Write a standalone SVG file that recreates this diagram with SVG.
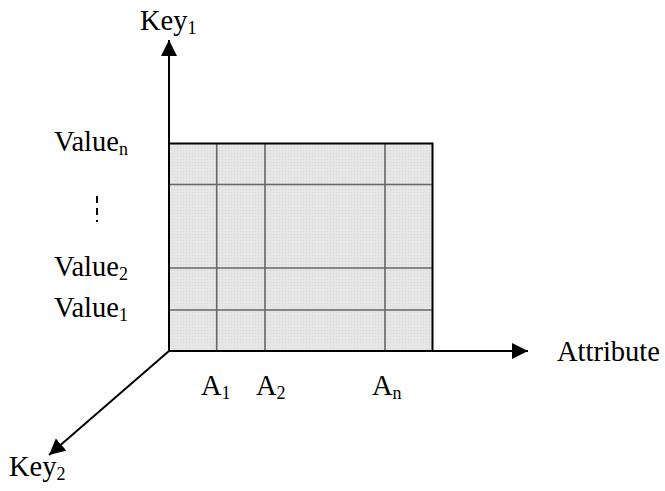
<svg xmlns="http://www.w3.org/2000/svg" width="665" height="491" viewBox="0 0 665 491">
<style>
text{font-family:"Liberation Serif","Times New Roman",serif;font-size:28.5px;fill:#000}
.sub{font-size:18px}
.axis{stroke:#000;stroke-width:2;fill:none}
.grid{stroke:#666;stroke-width:1.6;fill:none}
</style>
<defs>
<pattern id="dots" width="3" height="3" patternUnits="userSpaceOnUse">
<rect width="3" height="3" fill="#e6e6e6"/>
<rect width="1" height="1" fill="#d8d8d8"/>
</pattern>
<marker id="arr" markerUnits="userSpaceOnUse" markerWidth="18" markerHeight="18" refX="16" refY="8" orient="auto">
<path d="M0,0 L16,8 L0,16 z" fill="#000"/>
</marker>
</defs>
<g id="grid">
<rect x="169" y="143.5" width="263.5" height="207.5" fill="url(#dots)"/>
<line class="grid" x1="216.7" y1="143.5" x2="216.7" y2="351"/>
<line class="grid" x1="265" y1="143.5" x2="265" y2="351"/>
<line class="grid" x1="385" y1="143.5" x2="385" y2="351"/>
<line class="grid" x1="169" y1="184.5" x2="432.5" y2="184.5"/>
<line class="grid" x1="169" y1="268" x2="432.5" y2="268"/>
<line class="grid" x1="169" y1="310" x2="432.5" y2="310"/>
<rect x="169" y="143.5" width="263.5" height="207.5" fill="none" stroke="#000" stroke-width="2"/>
</g>
<g id="connectors">
<line class="axis" x1="169" y1="352" x2="169" y2="40" marker-end="url(#arr)"/>
<line class="axis" x1="168" y1="351" x2="528" y2="351" marker-end="url(#arr)"/>
<line class="axis" x1="169" y1="351" x2="49" y2="455" marker-end="url(#arr)"/>
<line x1="97" y1="196" x2="97" y2="222" stroke="#000" stroke-width="2" stroke-dasharray="7,5"/>
</g>
<g id="key1"><text x="140" y="30">Key<tspan class="sub" dy="4">1</tspan></text></g>
<g id="key2"><text x="9" y="476">Key<tspan class="sub" dy="4">2</tspan></text></g>
<g id="attribute"><text x="557" y="361">Attribute</text></g>
<g id="valuen"><text x="54" y="151">Value<tspan class="sub" dy="4">n</tspan></text></g>
<g id="value2"><text x="54" y="276">Value<tspan class="sub" dy="4">2</tspan></text></g>
<g id="value1"><text x="54" y="317">Value<tspan class="sub" dy="4">1</tspan></text></g>
<g id="a1"><text x="201" y="395">A<tspan class="sub" dy="4">1</tspan></text></g>
<g id="a2"><text x="256" y="395">A<tspan class="sub" dy="4">2</tspan></text></g>
<g id="an"><text x="372" y="395">A<tspan class="sub" dy="4">n</tspan></text></g>
</svg>
